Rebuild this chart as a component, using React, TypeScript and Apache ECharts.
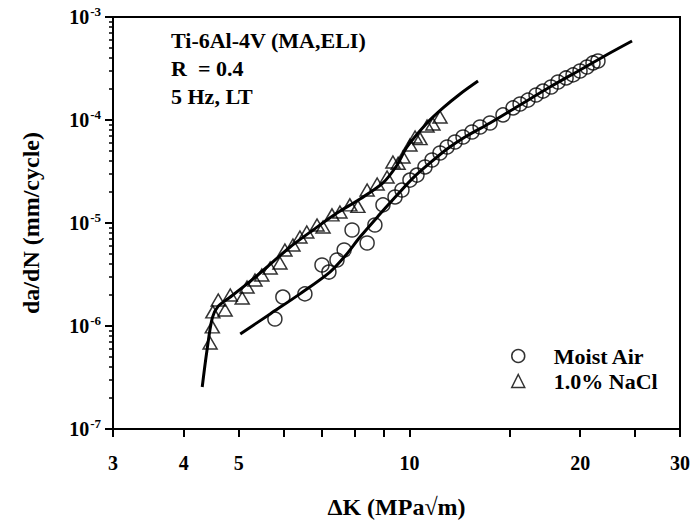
import React, { useEffect, useRef } from "react";
import * as echarts from "echarts";

// ---- Data (ΔK in MPa√m, da/dN in mm/cycle) ----
const moistAirDK = [5.79, 5.98, 6.54, 7.01, 7.21, 7.45, 7.67, 7.92, 8.42, 8.69, 8.98, 9.43, 9.7, 10.02, 10.31, 10.65, 10.96, 11.32, 11.65, 12.03, 12.43, 12.89, 13.32, 13.87, 14.62, 15.23, 15.67, 16.18, 16.72, 17.2, 17.77, 18.28, 18.89, 19.43, 19.99, 20.56, 21.07, 21.5];
const moistAirRate = [1.17e-6, 1.91e-6, 2.05e-6, 3.91e-6, 3.34e-6, 4.37e-6, 5.47e-6, 8.55e-6, 6.4e-6, 9.57e-6, 1.5e-5, 1.79e-5, 2.09e-5, 2.61e-5, 2.92e-5, 3.5e-5, 4.09e-5, 4.78e-5, 5.47e-5, 6.11e-5, 6.84e-5, 7.65e-5, 8.55e-5, 9.35e-5, 1.12e-4, 1.31e-4, 1.43e-4, 1.56e-4, 1.75e-4, 1.91e-4, 2.09e-4, 2.34e-4, 2.56e-4, 2.74e-4, 2.99e-4, 3.27e-4, 3.58e-4, 3.74e-4];

const naclDK = [4.45, 4.49, 4.5, 4.6, 4.73, 4.83, 5.07, 5.17, 5.34, 5.49, 5.68, 5.91, 6.03, 6.23, 6.41, 6.59, 6.87, 7.04, 7.3, 7.54, 7.85, 8.11, 8.42, 8.77, 9.13, 9.35, 9.55, 9.74, 10.02, 10.23, 10.44, 10.74, 11.0, 11.32];
const naclRate = [6.84e-7, 9.8e-7, 1.37e-6, 1.79e-6, 1.43e-6, 2.0e-6, 1.87e-6, 2.39e-6, 2.8e-6, 3.13e-6, 3.66e-6, 4.09e-6, 5.47e-6, 6.11e-6, 7.31e-6, 8.18e-6, 9.57e-6, 9.14e-6, 1.2e-5, 1.28e-5, 1.5e-5, 1.45e-5, 2.09e-5, 2.39e-5, 2.8e-5, 3.91e-5, 3.8e-5, 4.37e-5, 5.72e-5, 6.84e-5, 6.6e-5, 8.74e-5, 9.14e-5, 1.07e-4];

const moistFitDK = [5.03, 5.68, 6.41, 7.24, 7.7, 8.18, 8.87, 9.51, 10.14, 10.87, 11.65, 12.53, 13.87, 15.67, 17.69, 19.99, 22.57, 24.69];
const moistFitRate = [8.36e-7, 1.31e-6, 2.05e-6, 3.34e-6, 4.78e-6, 7.31e-6, 1.22e-5, 1.87e-5, 2.73e-5, 3.83e-5, 5.23e-5, 6.84e-5, 9.35e-5, 1.4e-4, 2.09e-4, 3.06e-4, 4.47e-4, 5.85e-4];

const naclFitDK = [4.31, 4.39, 4.49, 4.6, 4.83, 5.17, 5.61, 6.16, 6.76, 7.45, 8.18, 8.98, 9.51, 9.9, 10.74, 11.46, 12.28, 13.21];
const naclFitRate = [2.56e-7, 5.6e-7, 1.2e-6, 1.56e-6, 1.91e-6, 2.56e-6, 3.74e-6, 5.85e-6, 8.55e-6, 1.25e-5, 1.71e-5, 2.45e-5, 3.66e-5, 5.47e-5, 9.35e-5, 1.31e-4, 1.79e-4, 2.39e-4];

const xTickValues = [3, 4, 5, 6, 7, 8, 9, 10, 15, 20, 25, 30];
const xLabelValues = [3, 4, 5, 10, 20, 30];
const yMajorValues = [1e-7, 1e-6, 1e-5, 1e-4, 1e-3];
const yMinorValues = [
  2e-7, 3e-7, 4e-7, 5e-7, 6e-7, 7e-7, 8e-7, 9e-7,
  2e-6, 3e-6, 4e-6, 5e-6, 6e-6, 7e-6, 8e-6, 9e-6,
  2e-5, 3e-5, 4e-5, 5e-5, 6e-5, 7e-5, 8e-5, 9e-5,
  2e-4, 3e-4, 4e-4, 5e-4, 6e-4, 7e-4, 8e-4, 9e-4,
];

const FONT = '"Liberation Serif", "DejaVu Serif", serif';

const zip = (xs: number[], ys: number[]) => xs.map((x, i) => [x, ys[i]]);

export default function App() {
  const ref = useRef<HTMLDivElement>(null);
  useEffect(() => {
    if (!ref.current) return;
    const chart = echarts.init(ref.current, undefined, { renderer: "svg" });
    const hollow = {
      color: "rgba(0,0,0,0)",
      borderColor: "#000",
      borderWidth: 1.5,
    };
    const annot = { fontFamily: FONT, fontWeight: "bold", fontSize: 22, fill: "#000", verticalAlign: "middle" };
    chart.setOption({
      animation: false,
      backgroundColor: "#fff",
      grid: {
        left: 113,
        right: 17,
        top: 17,
        bottom: 102,
        show: true,
        borderColor: "#000",
        borderWidth: 2,
        backgroundColor: "transparent",
      },
      xAxis: {
        type: "log",
        logBase: 10,
        min: 3,
        max: 30,
        name: "ΔK (MPa√m)",
        nameLocation: "middle",
        nameGap: 66,
        nameTextStyle: { fontFamily: FONT, fontWeight: "bold", fontSize: 24, color: "#000" },
        axisLine: { show: true, lineStyle: { color: "#000", width: 2 } },
        axisTick: { show: true, inside: false, length: 8, lineStyle: { color: "#000", width: 2 }, customValues: xTickValues },
        minorTick: { show: false },
        axisLabel: {
          customValues: xLabelValues,
          margin: 24,
          fontFamily: FONT,
          fontWeight: "bold",
          fontSize: 20,
          color: "#000",
          formatter: (v: number) => String(Math.round(v)),
        },
        splitLine: { show: false },
      },
      yAxis: [
        {
          type: "log",
          logBase: 10,
          min: 1e-7,
          max: 1e-3,
          name: "da/dN (mm/cycle)",
          nameLocation: "middle",
          nameRotate: 90,
          nameGap: 70,
          nameTextStyle: { fontFamily: FONT, fontWeight: "bold", fontSize: 24, color: "#000" },
          axisLine: { show: true, lineStyle: { color: "#000", width: 2 } },
          axisTick: { show: true, inside: false, length: 8, lineStyle: { color: "#000", width: 2 }, customValues: yMajorValues },
          axisLabel: {
            customValues: yMajorValues,
            margin: 12,
            color: "#000",
            formatter: (v: number) => `{b|10}{s|-${Math.round(-Math.log10(v))}}`,
            rich: {
              b: { fontFamily: FONT, fontWeight: "bold", fontSize: 20, color: "#000" },
              s: { fontFamily: FONT, fontWeight: "bold", fontSize: 13, color: "#000", verticalAlign: "bottom", padding: [0, 0, 11, 1] },
            },
          },
          splitLine: { show: false },
        },
        {
          type: "log",
          logBase: 10,
          min: 1e-7,
          max: 1e-3,
          position: "left",
          axisLine: { show: false },
          axisTick: { show: true, inside: false, length: 4, lineStyle: { color: "#000", width: 1.5 }, customValues: yMinorValues },
          axisLabel: { show: false },
          splitLine: { show: false },
        },
      ],
      legend: {
        data: ["Moist Air", "1.0% NaCl"],
        orient: "vertical",
        left: 506,
        top: 340,
        itemWidth: 13,
        itemHeight: 13,
        itemGap: 3,
        itemStyle: hollow,
        selectedMode: false,
        textStyle: { fontFamily: FONT, fontWeight: "bold", fontSize: 22, color: "#000", padding: [0, 0, 0, 24] },
      },
      graphic: [
        { type: "text", x: 171, y: 40, style: { text: "Ti-6Al-4V (MA,ELI)", ...annot } },
        { type: "text", x: 171, y: 68, style: { text: "R  = 0.4", ...annot } },
        { type: "text", x: 171, y: 96, style: { text: "5 Hz, LT", ...annot } },
      ],
      series: [
        {
          name: "Moist Air fit",
          type: "line",
          data: zip(moistFitDK, moistFitRate),
          showSymbol: false,
          symbol: "none",
          smooth: 0.3,
          lineStyle: { color: "#000", width: 3 },
          silent: true,
          z: 2,
        },
        {
          name: "NaCl fit",
          type: "line",
          data: zip(naclFitDK, naclFitRate),
          showSymbol: false,
          symbol: "none",
          smooth: 0.3,
          lineStyle: { color: "#000", width: 3 },
          silent: true,
          z: 2,
        },
        {
          name: "Moist Air",
          type: "scatter",
          symbol: "circle",
          symbolSize: 14,
          data: zip(moistAirDK, moistAirRate),
          itemStyle: hollow,
          silent: true,
          z: 3,
        },
        {
          name: "1.0% NaCl",
          type: "scatter",
          symbol: "triangle",
          symbolSize: [14, 12],
          data: zip(naclDK, naclRate),
          itemStyle: hollow,
          silent: true,
          z: 3,
        },
      ],
    });
    return () => chart.dispose();
  }, []);
  return (
    <div
      ref={ref}
      style={{ position: "fixed", left: 0, top: 0, width: 697, height: 531, background: "#fff" }}
    />
  );
}
